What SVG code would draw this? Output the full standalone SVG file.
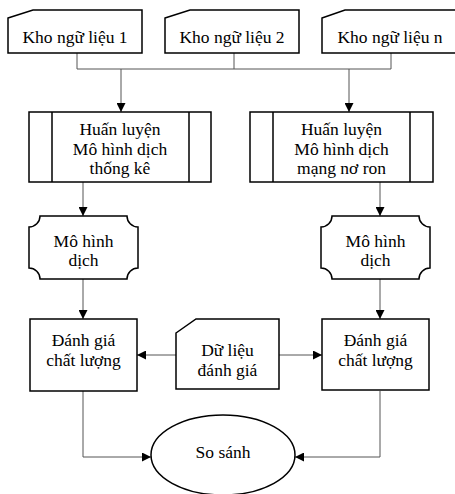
<svg xmlns="http://www.w3.org/2000/svg" width="455" height="494" viewBox="0 0 455 494">
<style>
.shape{fill:#fff;stroke:#000;stroke-width:1.5}
.conn{fill:none;stroke:#555;stroke-width:1}
.t{font-family:'Liberation Serif','Times New Roman','DejaVu Serif',serif;font-size:17.5px;fill:#000;text-anchor:middle}
</style>
<defs>
<marker id="arr" viewBox="0 0 10 10" refX="10" refY="5" markerWidth="9" markerHeight="9" markerUnits="userSpaceOnUse" orient="auto">
<path d="M0,0 L10,5 L0,10 z" fill="#000"/>
</marker>
</defs>
<rect width="455" height="494" fill="#fff"/>
<g id="connectors">
<path class="conn" d="M77,53 V69 M234,53 V69 M391,53 V69 M77,69 H391"/>
<path class="conn" d="M121,69 V112" marker-end="url(#arr)"/>
<path class="conn" d="M349,69 V112" marker-end="url(#arr)"/>
<path class="conn" d="M83,182 V216" marker-end="url(#arr)"/>
<path class="conn" d="M380,182 V216" marker-end="url(#arr)"/>
<path class="conn" d="M83,279 V319" marker-end="url(#arr)"/>
<path class="conn" d="M380,279 V319" marker-end="url(#arr)"/>
<path class="conn" d="M176,355 H137" marker-end="url(#arr)"/>
<path class="conn" d="M279,355 H322" marker-end="url(#arr)"/>
<path class="conn" d="M83,391 V457 H151" marker-end="url(#arr)"/>
<path class="conn" d="M380,391 V457 H295" marker-end="url(#arr)"/>
</g>
<g id="kho1">
<path class="shape" d="M8,18 L33,10 H142 V53 H8 Z"/>
<text class="t" x="75" y="43">Kho ngữ liệu 1</text>
</g>
<g id="kho2">
<path class="shape" d="M165,18 L190,10 H299 V53 H165 Z"/>
<text class="t" x="232" y="43">Kho ngữ liệu 2</text>
</g>
<g id="khon">
<path class="shape" d="M322,18 L345,10 H456 V53 H322 Z"/>
<text class="t" x="390" y="43">Kho ngữ liệu n</text>
</g>
<g id="train1">
<rect class="shape" x="29" y="112" width="182" height="70"/>
<path class="shape" d="M52,112 V182 M189,112 V182"/>
<text class="t" x="120" y="135">Huấn luyện</text>
<text class="t" x="120" y="155">Mô hình dịch</text>
<text class="t" x="120" y="174">thống kê</text>
</g>
<g id="train2">
<rect class="shape" x="250" y="112" width="183" height="70"/>
<path class="shape" d="M273,112 V182 M410,112 V182"/>
<text class="t" x="341.5" y="135">Huấn luyện</text>
<text class="t" x="341.5" y="155">Mô hình dịch</text>
<text class="t" x="341.5" y="174">mạng nơ ron</text>
</g>
<g id="model1">
<path class="shape" d="M40,216 H127 A11,11 0 0 0 138,227 V268 A11,11 0 0 0 127,279 H40 A11,11 0 0 0 29,268 V227 A11,11 0 0 0 40,216 Z"/>
<text class="t" x="83.5" y="247">Mô hình</text>
<text class="t" x="83.5" y="266">dịch</text>
</g>
<g id="model2">
<path class="shape" d="M332,216 H419 A11,11 0 0 0 430,227 V268 A11,11 0 0 0 419,279 H332 A11,11 0 0 0 321,268 V227 A11,11 0 0 0 332,216 Z"/>
<text class="t" x="375.5" y="247">Mô hình</text>
<text class="t" x="375.5" y="266">dịch</text>
</g>
<g id="eval1">
<rect class="shape" x="30" y="319" width="107" height="72"/>
<text class="t" x="83.5" y="346">Đánh giá</text>
<text class="t" x="83.5" y="366">chất lượng</text>
</g>
<g id="evaldata">
<path class="shape" d="M176,333 L196,319 H279 V389 H176 Z"/>
<text class="t" x="227.5" y="356">Dữ liệu</text>
<text class="t" x="227.5" y="376">đánh giá</text>
</g>
<g id="eval2">
<rect class="shape" x="322" y="319" width="107" height="71"/>
<text class="t" x="375.5" y="346">Đánh giá</text>
<text class="t" x="375.5" y="366">chất lượng</text>
</g>
<g id="compare">
<ellipse class="shape" cx="223" cy="455" rx="72" ry="40"/>
<text class="t" x="223" y="458">So sánh</text>
</g>
</svg>
